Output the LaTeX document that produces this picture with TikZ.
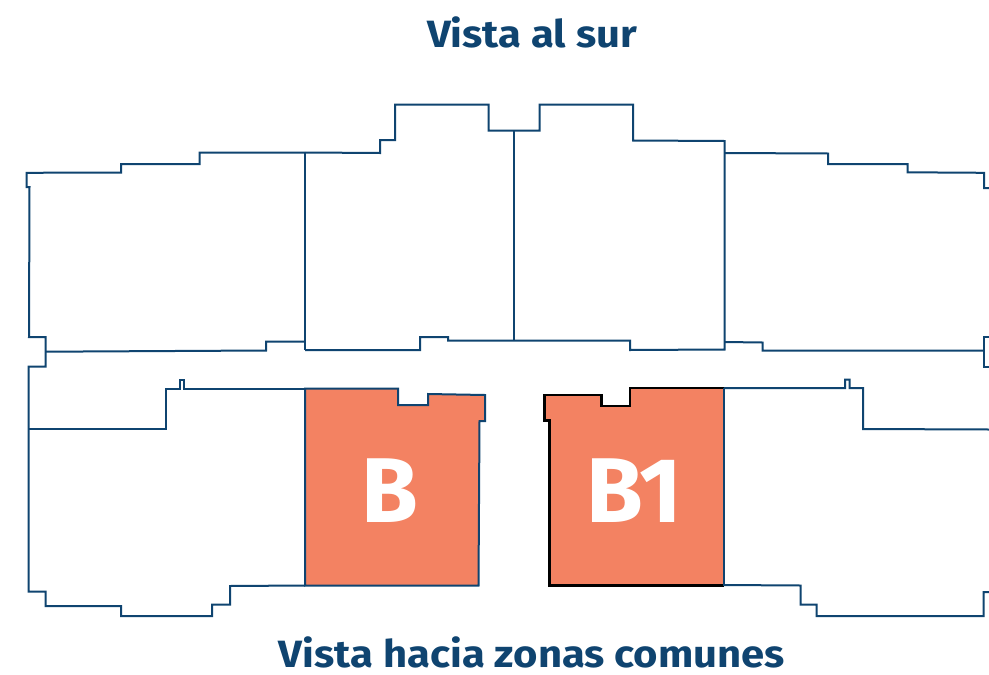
\documentclass[tikz,border=0pt]{standalone}
\usepackage{fontspec}
\setmainfont{Fira Sans}
\newfontfamily\widefira[FakeStretch=1.1]{Fira Sans}
\definecolor{navy}{HTML}{0F4470}
\definecolor{coral}{HTML}{F38262}
\tikzset{
  x=1pt,y=-1pt,
  wall/.style={draw=navy,line width=2pt,line join=miter},
  title/.style={text=navy,font=\widefira\bfseries\fontsize{38}{38}\selectfont,inner sep=0pt,anchor=base},
  unitlabel/.style={text=white,font=\bfseries\fontsize{92}{92}\selectfont,inner sep=0pt,anchor=base}
}
\begin{document}
\begin{tikzpicture}
\useasboundingbox (0,0) rectangle (989,675);
\fill[white] (0,0) rectangle (989,675);
% coral units
\fill[coral] (305,388.5) -- (398,388.5) -- (398,405) -- (428,405) -- (428,394) -- (485,395) -- (485,421) -- (479.5,421) -- (478.5,585.5) -- (305,585.5) -- cycle;
\fill[coral] (544.5,395) -- (601.5,395) -- (601.5,406) -- (630,406) -- (630,388) -- (724,388) -- (724,585.5) -- (549.5,585.5) -- (549.5,420.5) -- (544.5,420.5) -- cycle;
% upper left block
\draw[wall] (305,152.5) -- (199.5,152.5) -- (199.5,164) -- (121,164) -- (121,172.5) -- (26.5,172.8) -- (26.5,187.2) -- (29.5,187.2) -- (29,337) -- (45.5,337) -- (45.5,366.5) -- (28.5,366.5) -- (28.5,591.7) -- (45.5,591.7) -- (45.5,606) -- (121,606) -- (121,616) -- (212,616) -- (212,604.5) -- (230,604.5) -- (230,586) -- (305,585.5);
\draw[wall] (45.5,351.7) -- (266,350.5) -- (266,341.7) -- (305,341.7);
\draw[wall] (305,152.5) -- (305,350);
% middle block
\draw[wall] (305,152.5) -- (380,153) -- (380,140) -- (395,140) -- (395,104.5) -- (488.5,104.5) -- (488.5,130.5) -- (539.5,130.5) -- (539.5,104.5) -- (633,104.5) -- (633,140.5) -- (724.5,141) -- (724.5,349.5) -- (630,350) -- (630,340.5) -- (448,340.5) -- (448,337) -- (420,337) -- (420,350) -- (305,350);
\draw[wall] (514,130.5) -- (514,340.5);
% upper right block
\draw[wall] (724.5,153) -- (828,153.5) -- (828,164) -- (907.5,164) -- (907.5,172.3) -- (984,172.8) -- (984,188) -- (989,188);
\draw[wall] (724.5,342) -- (762.5,342.5) -- (762.5,350.7) -- (984,350.7);
\draw[wall] (989,337) -- (984,337) -- (984,366.5) -- (989,366.5);
% lower left block
\draw[wall] (28.5,429) -- (165.5,429) -- (165.5,388.5) -- (180,388.5) -- (180,380) -- (183.5,380) -- (183.5,388.5) -- (305,388.5);
% lower right block
\draw[wall] (724,388) -- (845,388) -- (845,379.5) -- (849.5,379.5) -- (849.5,388) -- (863,388) -- (863,429) -- (989,429.5);
\draw[wall] (724,585) -- (800.5,585.5) -- (800.5,604.5) -- (816.5,604.5) -- (816.5,616) -- (983.5,616) -- (983.5,592) -- (989,592);
% unit outlines
\draw[wall] (305,388.5) -- (398,388.5) -- (398,405) -- (428,405) -- (428,394) -- (485,395) -- (485,421) -- (479.5,421) -- (478.5,585.5) -- (305,585.5) -- cycle;
\draw[black,line width=2.6pt] (724,388) -- (630,388) -- (630,406) -- (601.5,406) -- (601.5,395) -- (544.5,395) -- (544.5,420.5) -- (549.5,420.5) -- (549.5,585.5) -- (724,585.5);
\draw[draw=navy,line width=1.2pt] (724,388) -- (724,585.5);
% text
\node[title] (t1) at (532,47.5) {Vista al sur};
\node[title] (t2) at (532,667.5) {Vista hacia zonas comunes};
\node[unitlabel] (b) at (390,522) {B};
\node[unitlabel] (b1) at (634.5,522) {B1};
\end{tikzpicture}
\end{document}
